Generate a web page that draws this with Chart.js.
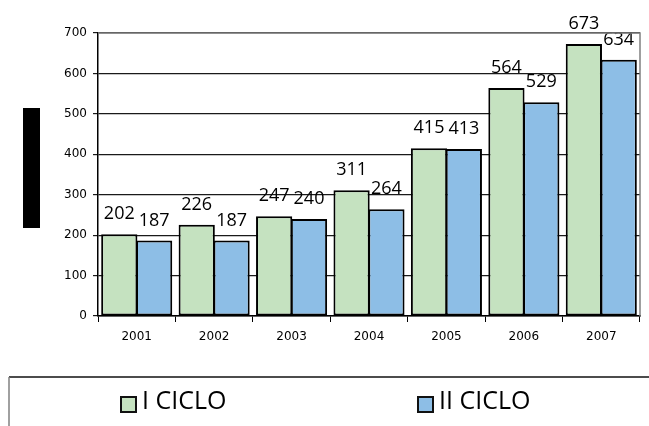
<!DOCTYPE html>
<html>
<head>
<meta charset="utf-8">
<script src="https://cdn.jsdelivr.net/npm/chart.js@4/dist/chart.umd.min.js"></script>
<style>
  html, body { margin: 0; padding: 0; background: #fff; }
  #wrap { position: relative; width: 649px; height: 426px; }
  #blk { position: absolute; left: 23px; top: 108px; width: 17px; height: 120px; background: #000; }
</style>
</head>
<body>
<div id="wrap">
  <canvas id="c" width="649" height="426"></canvas>
  <div id="blk"></div>
</div>
<script>
const years = ['2001', '2002', '2003', '2004', '2005', '2006', '2007'];
const cicloI = [202, 226, 247, 311, 415, 564, 673];
const cicloII = [187, 187, 240, 264, 413, 529, 634];
const seriesNames = ['I CICLO', 'II CICLO'];
const yTicks = [0, 100, 200, 300, 400, 500, 600, 700];

const GREEN = '#c5e2c0';
const BLUE = '#8dbee6';

const valueLabels = {
  id: 'valueLabels',
  afterDatasetsDraw(chart) {
    const ctx = chart.ctx;
    ctx.save();
    ctx.font = '18px "Open Sans"';
    ctx.fillStyle = '#000';
    ctx.textAlign = 'center';
    ctx.textBaseline = 'middle';
    chart.data.datasets.forEach((ds, i) => {
      chart.getDatasetMeta(i).data.forEach((bar, j) => {
        ctx.fillText(String(ds.data[j]), bar.x, bar.y - 20);
      });
    });
    ctx.restore();
  }
};

const frame = {
  id: 'frame',
  afterDraw(chart) {
    const ctx = chart.ctx;
    const a = chart.chartArea;
    ctx.save();
    ctx.strokeStyle = '#808080';
    ctx.lineWidth = 1.5;
    ctx.beginPath();
    ctx.moveTo(a.left, a.top);
    ctx.lineTo(a.right, a.top);
    ctx.lineTo(a.right, a.bottom);
    ctx.stroke();
    ctx.strokeStyle = '#111';
    ctx.lineWidth = 1.5;
    ctx.beginPath();
    ctx.moveTo(9, 377);
    ctx.lineTo(649, 377);
    ctx.stroke();
    ctx.strokeStyle = '#808080';
    ctx.beginPath();
    ctx.moveTo(9, 377);
    ctx.lineTo(9, 426);
    ctx.stroke();
    const items = [
      { x: 121, color: GREEN, text: seriesNames[0] },
      { x: 418, color: BLUE, text: seriesNames[1] }
    ];
    ctx.font = '25px "Open Sans"';
    ctx.textBaseline = 'middle';
    ctx.textAlign = 'left';
    items.forEach(it => {
      ctx.fillStyle = it.color;
      ctx.fillRect(it.x, 397, 15, 15);
      ctx.strokeStyle = '#111';
      ctx.lineWidth = 2;
      ctx.strokeRect(it.x, 397, 15, 15);
      ctx.fillStyle = '#000';
      ctx.fillText(it.text, it.x + 21, 402);
    });
    ctx.restore();
  }
};

new Chart(document.getElementById('c'), {
  type: 'bar',
  data: {
    labels: years,
    datasets: [
      { label: seriesNames[0], data: cicloI, backgroundColor: GREEN, borderColor: '#000', borderWidth: 2, borderSkipped: false, inflateAmount: 0 },
      { label: seriesNames[1], data: cicloII, backgroundColor: BLUE, borderColor: '#000', borderWidth: 2, borderSkipped: false, inflateAmount: 0 }
    ]
  },
  options: {
    responsive: false,
    animation: false,
    devicePixelRatio: 1,
    layout: { padding: { left: 0, right: 9, top: 33, bottom: 80 } },
    datasets: { bar: { barPercentage: 1.04, categoryPercentage: 0.9 } },
    plugins: { legend: { display: false }, tooltip: { enabled: false } },
    scales: {
      x: {
        afterFit(s) { s.height = 30; },
        grid: { drawOnChartArea: false, drawTicks: true, tickLength: 6, color: '#000', offset: true },
        border: { color: '#000', width: 1.5 },
        ticks: { color: '#000', font: { family: 'DejaVu Sans', size: 12 }, padding: 8 }
      },
      y: {
        min: 0, max: 700,
        afterFit(s) { s.width = 98; },
        afterBuildTicks(s) { s.ticks = yTicks.map(v => ({ value: v })); },
        grid: { color: '#1a1a1a', lineWidth: 1.2, tickLength: 5 },
        border: { color: '#000', width: 1.5 },
        ticks: { color: '#000', font: { family: 'DejaVu Sans', size: 12 }, padding: 6 }
      }
    }
  },
  plugins: [valueLabels, frame]
});
</script>
</body>
</html>
